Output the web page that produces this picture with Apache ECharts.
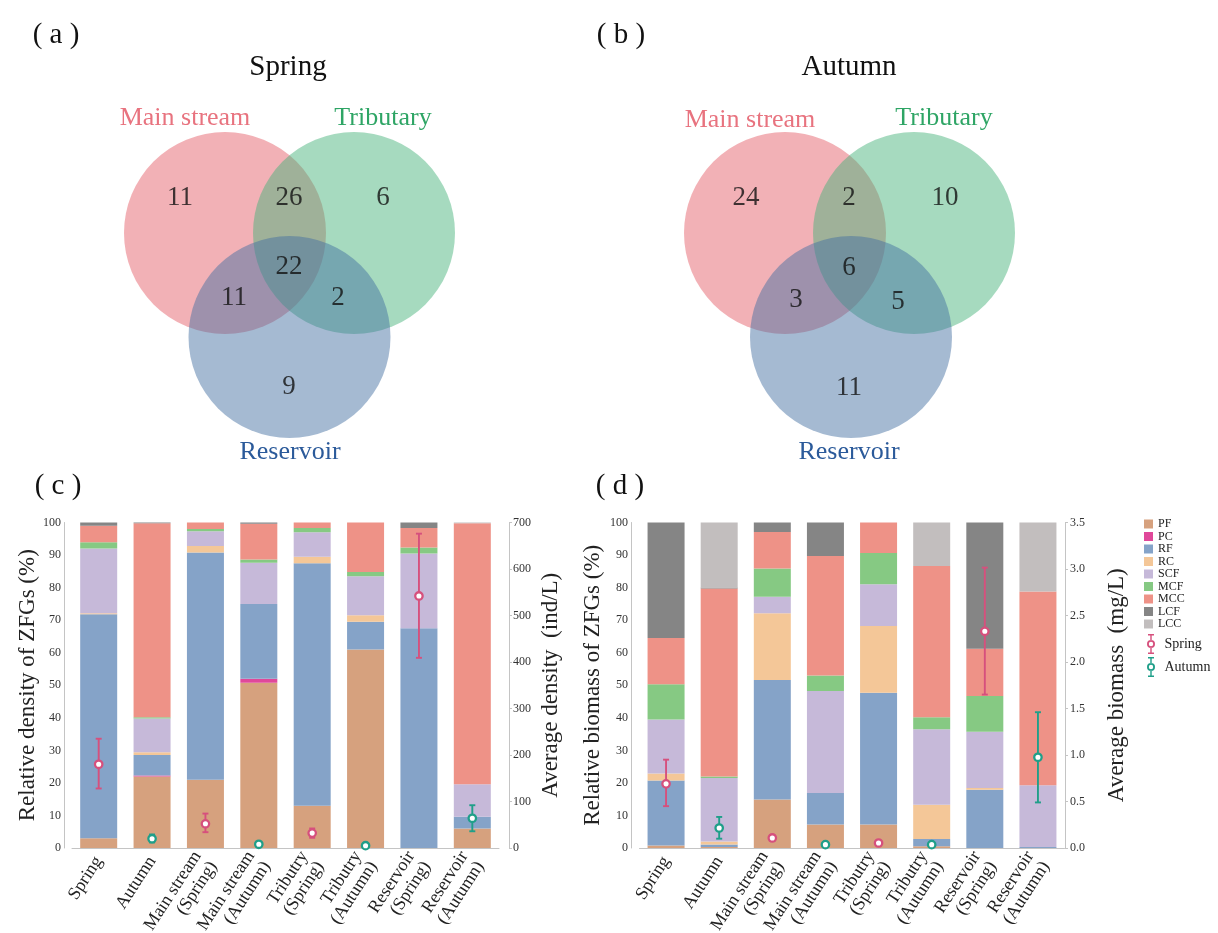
<!DOCTYPE html>
<html><head><meta charset="utf-8">
<script src="https://cdn.jsdelivr.net/npm/echarts@6/dist/echarts.min.js"></script>
<style>html,body{margin:0;padding:0;background:#fff}#c{width:1218px;height:933px}</style>
</head><body><div id="c"></div>
<script>
// ---------------- DATA ----------------
const categories = ['Spring','Autumn','Main stream\n(Spring)','Main stream\n(Autumn)','Tributry\n(Spring)','Tributry\n(Autumn)','Reservoir\n(Spring)','Reservoir\n(Autumn)'];
const seasons = ['Spring','Autumn','Spring','Autumn','Spring','Autumn','Spring','Autumn'];
const groups = ['PF','PC','RF','RC','SCF','MCF','MCC','LCF','LCC'];

// relative density (%)
const densityPF  = [3, 22, 21, 50.8, 13, 61, 0, 6];
const densityPC  = [0, 0.3, 0, 1.2, 0, 0, 0, 0];
const densityRF  = [68.8, 6.3, 69.8, 23, 74.5, 8.5, 67.5, 3.6];
const densityRC  = [0.3, 0.8, 2, 0, 2, 2, 0, 0];
const densitySCF = [19.9, 10.4, 4.5, 12.6, 7.5, 12, 23, 10];
const densityMCF = [1.9, 0.4, 0.7, 1, 1.3, 1.3, 1.8, 0];
const densityMCC = [5.1, 59.6, 2, 11, 1.7, 15.2, 6, 80.2];
const densityLCF = [1.0, 0.2, 0, 0.4, 0, 0, 1.7, 0];
const densityLCC = [0, 0, 0, 0, 0, 0, 0, 0.2];

// relative biomass (%)
const biomassPF  = [0.8, 0.3, 14.9, 7.2, 7.2, 0.5, 0, 0];
const biomassPC  = [0, 0, 0, 0, 0, 0, 0, 0];
const biomassRF  = [19.9, 0.8, 36.7, 9.7, 40.5, 2.3, 17.9, 0.3];
const biomassRC  = [2.2, 0.9, 20.5, 0, 20.5, 10.5, 0.5, 0];
const biomassSCF = [16.6, 19.5, 5.1, 31.3, 12.8, 23.2, 17.3, 19];
const biomassMCF = [10.8, 0.5, 8.7, 4.8, 9.6, 3.7, 11, 0];
const biomassMCC = [14.2, 57.7, 11.2, 36.7, 9.4, 46.4, 14.5, 59.5];
const biomassLCF = [35.5, 0.3, 2.9, 10.3, 0, 0, 38.8, 0];
const biomassLCC = [0, 20, 0, 0, 0, 13.4, 0, 21.2];

// average density (ind/L) with error range
const densityMean = [180, 20, 52, 8, 32, 5, 542, 64];
const densityLow  = [128, 12, 34, 5, 22, 3, 409, 36];
const densityHigh = [235, 29, 74, 11, 42, 7, 676, 92];

// average biomass (mg/L) with error range
const biomassMean = [0.69, 0.215, 0.108, 0.036, 0.054, 0.036, 2.33, 0.976];
const biomassLow  = [0.45, 0.10, 0.08, 0.02, 0.04, 0.02, 1.65, 0.49];
const biomassHigh = [0.95, 0.334, 0.14, 0.05, 0.07, 0.05, 3.015, 1.46];

// Venn counts: [M only, M∩T, T only, M∩T∩R, M∩R, T∩R, R only]
const vennSets = ['Main stream','Tributary','Reservoir'];
const vennSpringCounts = [11, 26, 6, 22, 11, 2, 9];
const vennAutumnCounts = [24, 2, 10, 6, 3, 5, 11];

// ---------------- LAYOUT / STYLE ----------------
const FONT = "'Liberation Serif','DejaVu Serif',serif";
const groupColors = ['#d6a17e','#e0489a','#85a3c8','#f4c798','#c6b9d9','#86c983','#ee9287','#858585','#c2bebe'];
const springColor = '#d6507d', autumnColor = '#1f9f89';
const vennFill = ['rgba(227,93,102,0.6)','rgba(68,177,122,0.6)','rgba(67,110,160,0.6)'];
const vennText = ['#e8737f','#2ea565','#2b5a9a'];
const vennLayouts = [
  {title:'Spring', titlePos:[288,67], circles:[[225,233],[354,233],[289.5,337]],
   regions:[[180,198],[289,198],[383,198],[289,267],[234,298],[338,298],[289,387]],
   setPos:[[185,118],[383,118],[290,452]]},
  {title:'Autumn', titlePos:[849,67], circles:[[785,233],[914,233],[851,337]],
   regions:[[746,198],[849,198],[945,198],[849,268],[796,300],[898,302],[849,388]],
   setPos:[[750,120],[944,118],[849,452]]}
];
const vennDiameter = 202;

const densityByGroup = [densityPF,densityPC,densityRF,densityRC,densitySCF,densityMCF,densityMCC,densityLCF,densityLCC];
const biomassByGroup = [biomassPF,biomassPC,biomassRF,biomassRC,biomassSCF,biomassMCF,biomassMCC,biomassLCF,biomassLCC];

const series = [];
// Venn circles + counts (grid 2, hidden pixel axes)
[vennSpringCounts, vennAutumnCounts].forEach((counts, k) => {
  const L = vennLayouts[k];
  series.push({type:'scatter', xAxisIndex:2, yAxisIndex:4, silent:true, z:1,
    symbolSize: vennDiameter,
    data: L.circles.map((c,j)=>({value:c, itemStyle:{color:vennFill[j]}}))});
  series.push({type:'scatter', xAxisIndex:2, yAxisIndex:4, silent:true, z:3,
    symbolSize: 1, itemStyle:{color:'rgba(0,0,0,0)'},
    label:{show:true, position:'inside', formatter:p=>String(p.value[2]), fontFamily:FONT, fontSize:27, color:'#111'},
    data: counts.map((v,j)=>[L.regions[j][0], L.regions[j][1], v])});
});

// stacked bars
groups.forEach((g,gi)=>{
  series.push({type:'bar', name:g, xAxisIndex:0, yAxisIndex:0, stack:'dens', barWidth:37,
    itemStyle:{color:groupColors[gi]}, silent:true, data: densityByGroup[gi]});
  series.push({type:'bar', name:g, xAxisIndex:1, yAxisIndex:2, stack:'bio', barWidth:37,
    itemStyle:{color:groupColors[gi]}, silent:true, data: biomassByGroup[gi]});
});

function errSeries(name, color, mean, low, high, season, xi, yi){
  const data = [];
  mean.forEach((m,i)=>{ if (seasons[i]===season) data.push([i, m, low[i], high[i]]); });
  return {type:'custom', name, xAxisIndex:xi, yAxisIndex:yi, z:10, silent:true,
    itemStyle:{color}, data, encode:{x:0, y:[1,2,3]},
    renderItem(params, api){
      const i = api.value(0);
      const pm = api.coord([i, api.value(1)]);
      const pl = api.coord([i, api.value(2)]);
      const ph = api.coord([i, api.value(3)]);
      const cw = 3;
      const ls = {stroke:color, lineWidth:1.9};
      return {type:'group', children:[
        {type:'line', shape:{x1:pm[0], y1:pl[1], x2:pm[0], y2:ph[1]}, style:ls},
        {type:'line', shape:{x1:pm[0]-cw, y1:ph[1], x2:pm[0]+cw, y2:ph[1]}, style:ls},
        {type:'line', shape:{x1:pm[0]-cw, y1:pl[1], x2:pm[0]+cw, y2:pl[1]}, style:ls},
        {type:'circle', shape:{cx:pm[0], cy:pm[1], r:3.7}, style:{fill:'#fff', stroke:color, lineWidth:2.3}}
      ]};
    }};
}
series.push(errSeries('Spring', springColor, densityMean, densityLow, densityHigh, 'Spring', 0, 1));
series.push(errSeries('Autumn', autumnColor, densityMean, densityLow, densityHigh, 'Autumn', 0, 1));
series.push(errSeries('Spring', springColor, biomassMean, biomassLow, biomassHigh, 'Spring', 1, 3));
series.push(errSeries('Autumn', autumnColor, biomassMean, biomassLow, biomassHigh, 'Autumn', 1, 3));

const axisLineStyle = {show:true, lineStyle:{color:'#c4c4c4', width:1}};
const tickLabel = {fontFamily:FONT, fontSize:12, color:'#333'};
const nameStyle = {fontFamily:FONT, fontSize:23, color:'#222'};

function xAx(gi){
  return {type:'category', gridIndex:gi, data:categories, boundaryGap:true,
    axisLine:axisLineStyle, axisTick:{show:false},
    axisLabel:{interval:0, rotate:57, margin:10, fontFamily:FONT, fontSize:18, color:'#222', lineHeight:19}};
}
function yAx(o){
  return Object.assign({type:'value', splitLine:{show:false}, axisLine:axisLineStyle,
    nameLocation:'middle', nameRotate:90, nameTextStyle:nameStyle, nameMoveOverlap:false}, o);
}

const ringIcon = 'path://M2,0H8V1.4H2Z M4.3,0H5.7V6.2H4.3Z M4.3,13.8H5.7V20H4.3Z M2,18.6H8V20H2Z M1,10A4,4 0 1,0 9,10A4,4 0 1,0 1,10Z M2.8,10A2.2,2.2 0 1,1 7.2,10A2.2,2.2 0 1,1 2.8,10Z';

const graphic = [];
const panelLabels = [['( a )',56,35],['( b )',621,35],['( c )',58,486],['( d )',620,486]];
panelLabels.forEach(p=>graphic.push({type:'text', x:p[1], y:p[2], silent:true,
  style:{text:p[0], font:'29px '+FONT, fill:'#111', align:'center', verticalAlign:'middle', textAlign:'center', textVerticalAlign:'middle'}}));
vennLayouts.forEach(L=>{
  graphic.push({type:'text', x:L.titlePos[0], y:L.titlePos[1], silent:true,
    style:{text:L.title, font:'29px '+FONT, fill:'#111', align:'center', verticalAlign:'middle', textAlign:'center', textVerticalAlign:'middle'}});
  L.setPos.forEach((p,j)=>graphic.push({type:'text', x:p[0], y:p[1], silent:true,
    style:{text:vennSets[j], font:'26px '+FONT, fill:vennText[j], align:'center', verticalAlign:'middle', textAlign:'center', textVerticalAlign:'middle'}}));
});

const option = {
  backgroundColor:'#fff',
  animation:false,
  textStyle:{fontFamily:FONT},
  grid:[
    {left:72, top:522.5, width:427, height:325.5, outerBoundsMode:'none'},
    {left:639.5, top:522.5, width:425, height:325.5, outerBoundsMode:'none'},
    {left:0, top:0, width:1218, height:933, outerBoundsMode:'none'}
  ],
  xAxis:[ xAx(0), xAx(1),
    {type:'value', gridIndex:2, min:0, max:1218, show:false} ],
  yAxis:[
    yAx({gridIndex:0, position:'left', offset:8, min:0, max:100, interval:10, axisTick:{show:false},
      axisLabel:Object.assign({margin:3}, tickLabel), name:'Relative density of ZFGs (%)', nameGap:25}),
    yAx({gridIndex:0, position:'right', offset:10, min:0, max:700, interval:100, axisTick:{show:true, length:3, lineStyle:{color:'#c4c4c4'}},
      axisLabel:Object.assign({margin:4}, tickLabel), name:'Average density  (ind/L)', nameGap:30}),
    yAx({gridIndex:1, position:'left', offset:8.5, min:0, max:100, interval:10, axisTick:{show:false},
      axisLabel:Object.assign({margin:3}, tickLabel), name:'Relative biomass of ZFGs (%)', nameGap:27}),
    yAx({gridIndex:1, position:'right', offset:0.5, min:0, max:3.5, interval:0.5, axisTick:{show:true, length:3, lineStyle:{color:'#c4c4c4'}},
      axisLabel:Object.assign({margin:5, formatter:v=>v.toFixed(1)}, tickLabel), name:'Average biomass  (mg/L)', nameGap:40}),
    {type:'value', gridIndex:2, min:0, max:933, inverse:true, show:false}
  ],
  legend:[
    {orient:'vertical', left:1139, top:513, itemWidth:9, itemHeight:9, itemGap:0.5, selectedMode:false,
     icon:'rect', data:groups, textStyle:{fontFamily:FONT, fontSize:12, color:'#222', lineHeight:9.5}},
    {orient:'vertical', left:1142, top:629, itemWidth:11, itemHeight:20, itemGap:3, selectedMode:false,
     data:[{name:'Spring', icon:ringIcon, itemStyle:{color:springColor}},
           {name:'Autumn', icon:ringIcon, itemStyle:{color:autumnColor}}],
     textStyle:{fontFamily:FONT, fontSize:14, color:'#222', padding:[0,0,0,3]}}
  ],
  graphic: graphic,
  series: series
};
const chart = echarts.init(document.getElementById('c'), null, {renderer:'canvas'});
chart.setOption(option);
</script>
</body></html>
